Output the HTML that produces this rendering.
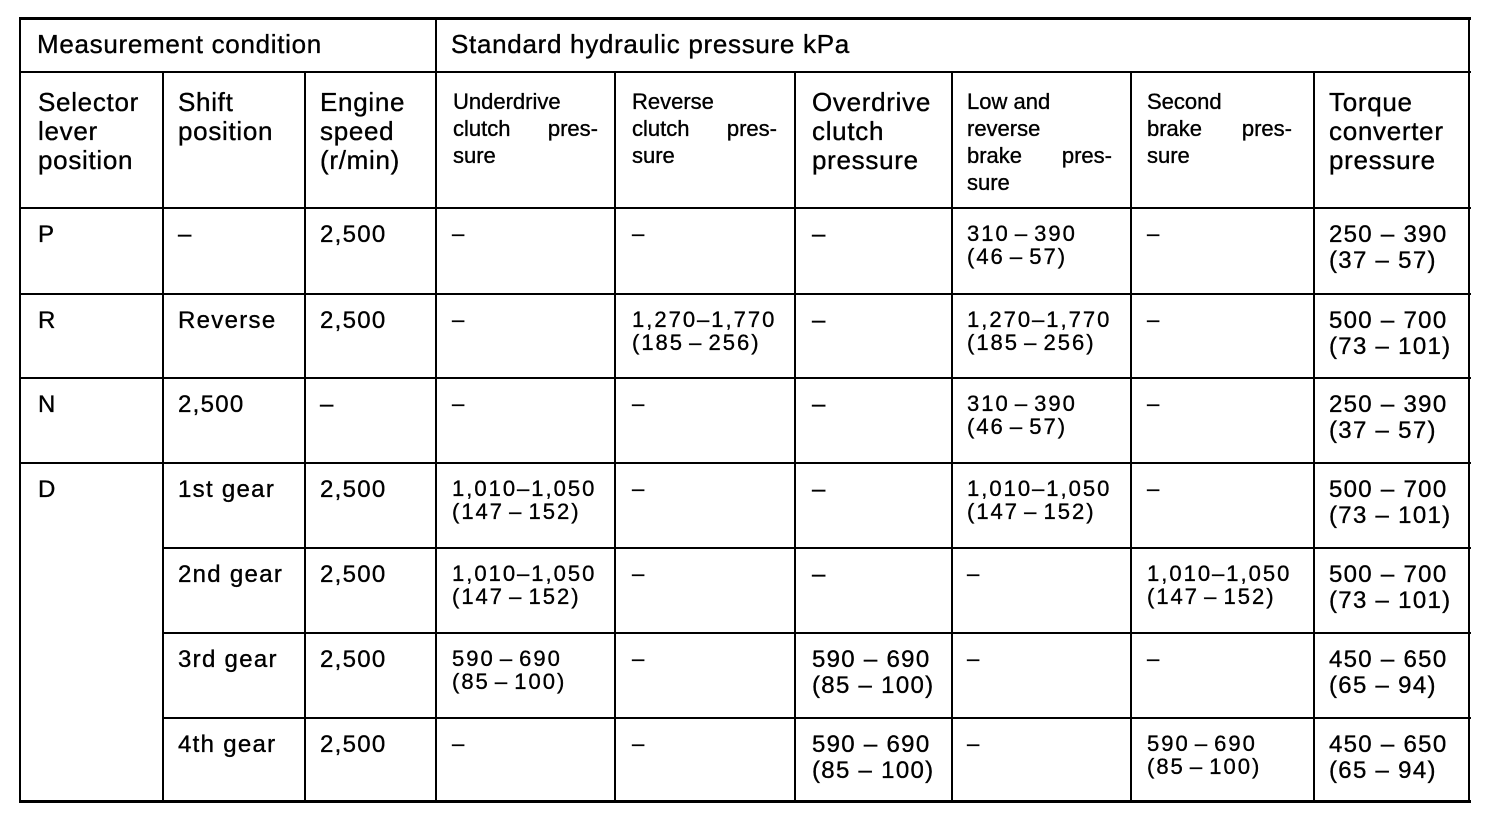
<!DOCTYPE html>
<html><head><meta charset="utf-8"><style>
html,body{margin:0;padding:0;background:#fff;}
body{width:1504px;height:822px;position:relative;overflow:hidden;font-family:"Liberation Sans",Arial,sans-serif;color:#000;-webkit-text-stroke:0.35px #000;}
.hl{position:absolute;height:2px;background:#000;}
.vl{position:absolute;width:2px;background:#000;}
.t{position:absolute;white-space:nowrap;}
.h{font-size:26px;letter-spacing:0.7px;line-height:29px;}
.hs{font-size:22px;line-height:27px;}
.j{display:flex;justify-content:space-between;width:145px;}
.r{position:absolute;left:0;width:1504px;height:0;}
.L{position:absolute;top:13.7px;font-size:24px;letter-spacing:1.3px;line-height:26px;white-space:nowrap;}
.S{position:absolute;top:14.2px;font-size:22px;letter-spacing:2px;word-spacing:-3px;line-height:23px;white-space:nowrap;}
</style></head><body>
<!-- horizontal lines -->
<div class="hl" style="left:19px;top:17px;width:1452px;height:3px"></div>
<div class="hl" style="left:19px;top:71px;width:1452px"></div>
<div class="hl" style="left:19px;top:207px;width:1452px"></div>
<div class="hl" style="left:19px;top:293px;width:1452px"></div>
<div class="hl" style="left:19px;top:377px;width:1452px"></div>
<div class="hl" style="left:19px;top:462px;width:1452px"></div>
<div class="hl" style="left:162px;top:547px;width:1309px"></div>
<div class="hl" style="left:162px;top:632px;width:1309px"></div>
<div class="hl" style="left:162px;top:717px;width:1309px"></div>
<div class="hl" style="left:19px;top:800px;width:1452px;height:3px"></div>
<!-- vertical lines -->
<div class="vl" style="left:19px;top:17px;height:786px"></div>
<div class="vl" style="left:1468px;top:17px;height:786px"></div>
<div class="vl" style="left:435px;top:17px;height:786px"></div>
<div class="vl" style="left:162px;top:71px;height:732px"></div>
<div class="vl" style="left:304px;top:71px;height:732px"></div>
<div class="vl" style="left:614px;top:71px;height:732px"></div>
<div class="vl" style="left:794px;top:71px;height:732px"></div>
<div class="vl" style="left:951px;top:71px;height:732px"></div>
<div class="vl" style="left:1130px;top:71px;height:732px"></div>
<div class="vl" style="left:1313px;top:71px;height:732px"></div>

<!-- header row 1 -->
<div class="t h" style="left:37px;top:30px">Measurement condition</div>
<div class="t h" style="left:451px;top:30px">Standard hydraulic pressure kPa</div>

<!-- header row 2 large -->
<div class="t h" style="left:38px;top:88px">Selector<br>lever<br>position</div>
<div class="t h" style="left:178px;top:88px">Shift<br>position</div>
<div class="t h" style="left:320px;top:88px">Engine<br>speed<br>(r/min)</div>
<div class="t h" style="left:812px;top:88px">Overdrive<br>clutch<br>pressure</div>
<div class="t h" style="left:1329px;top:88px">Torque<br>converter<br>pressure</div>

<!-- header row 2 small -->
<div class="t hs" style="left:453px;top:88px">Underdrive<div class="j"><span>clutch</span><span>pres-</span></div>sure</div>
<div class="t hs" style="left:632px;top:88px">Reverse<div class="j"><span>clutch</span><span>pres-</span></div>sure</div>
<div class="t hs" style="left:967px;top:88px">Low and<br>reverse<div class="j"><span>brake</span><span>pres-</span></div>sure</div>
<div class="t hs" style="left:1147px;top:88px">Second<div class="j"><span>brake</span><span>pres-</span></div>sure</div>

<!-- row P -->
<div class="r" style="top:208px">
<div class="L" style="left:38px">P</div>
<div class="L" style="left:178px">–</div>
<div class="L" style="left:320px">2,500</div>
<div class="S" style="left:452px">–</div>
<div class="S" style="left:632px">–</div>
<div class="L" style="left:812px">–</div>
<div class="S" style="left:967px">310 – 390<br>(46 – 57)</div>
<div class="S" style="left:1147px">–</div>
<div class="L" style="left:1329px">250 – 390<br>(37 – 57)</div>
</div>

<!-- row R -->
<div class="r" style="top:294px">
<div class="L" style="left:38px">R</div>
<div class="L" style="left:178px">Reverse</div>
<div class="L" style="left:320px">2,500</div>
<div class="S" style="left:452px">–</div>
<div class="S" style="left:632px">1,270–1,770<br>(185 – 256)</div>
<div class="L" style="left:812px">–</div>
<div class="S" style="left:967px">1,270–1,770<br>(185 – 256)</div>
<div class="S" style="left:1147px">–</div>
<div class="L" style="left:1329px">500 – 700<br>(73 – 101)</div>
</div>

<!-- row N -->
<div class="r" style="top:378px">
<div class="L" style="left:38px">N</div>
<div class="L" style="left:178px">2,500</div>
<div class="L" style="left:320px">–</div>
<div class="S" style="left:452px">–</div>
<div class="S" style="left:632px">–</div>
<div class="L" style="left:812px">–</div>
<div class="S" style="left:967px">310 – 390<br>(46 – 57)</div>
<div class="S" style="left:1147px">–</div>
<div class="L" style="left:1329px">250 – 390<br>(37 – 57)</div>
</div>

<!-- row D 1st -->
<div class="r" style="top:463px">
<div class="L" style="left:38px">D</div>
<div class="L" style="left:178px">1st gear</div>
<div class="L" style="left:320px">2,500</div>
<div class="S" style="left:452px">1,010–1,050<br>(147 – 152)</div>
<div class="S" style="left:632px">–</div>
<div class="L" style="left:812px">–</div>
<div class="S" style="left:967px">1,010–1,050<br>(147 – 152)</div>
<div class="S" style="left:1147px">–</div>
<div class="L" style="left:1329px">500 – 700<br>(73 – 101)</div>
</div>

<!-- row 2nd -->
<div class="r" style="top:548px">
<div class="L" style="left:178px">2nd gear</div>
<div class="L" style="left:320px">2,500</div>
<div class="S" style="left:452px">1,010–1,050<br>(147 – 152)</div>
<div class="S" style="left:632px">–</div>
<div class="L" style="left:812px">–</div>
<div class="S" style="left:967px">–</div>
<div class="S" style="left:1147px">1,010–1,050<br>(147 – 152)</div>
<div class="L" style="left:1329px">500 – 700<br>(73 – 101)</div>
</div>

<!-- row 3rd -->
<div class="r" style="top:633px">
<div class="L" style="left:178px">3rd gear</div>
<div class="L" style="left:320px">2,500</div>
<div class="S" style="left:452px">590 – 690<br>(85 – 100)</div>
<div class="S" style="left:632px">–</div>
<div class="L" style="left:812px">590 – 690<br>(85 – 100)</div>
<div class="S" style="left:967px">–</div>
<div class="S" style="left:1147px">–</div>
<div class="L" style="left:1329px">450 – 650<br>(65 – 94)</div>
</div>

<!-- row 4th -->
<div class="r" style="top:718px">
<div class="L" style="left:178px">4th gear</div>
<div class="L" style="left:320px">2,500</div>
<div class="S" style="left:452px">–</div>
<div class="S" style="left:632px">–</div>
<div class="L" style="left:812px">590 – 690<br>(85 – 100)</div>
<div class="S" style="left:967px">–</div>
<div class="S" style="left:1147px">590 – 690<br>(85 – 100)</div>
<div class="L" style="left:1329px">450 – 650<br>(65 – 94)</div>
</div>
</body></html>
